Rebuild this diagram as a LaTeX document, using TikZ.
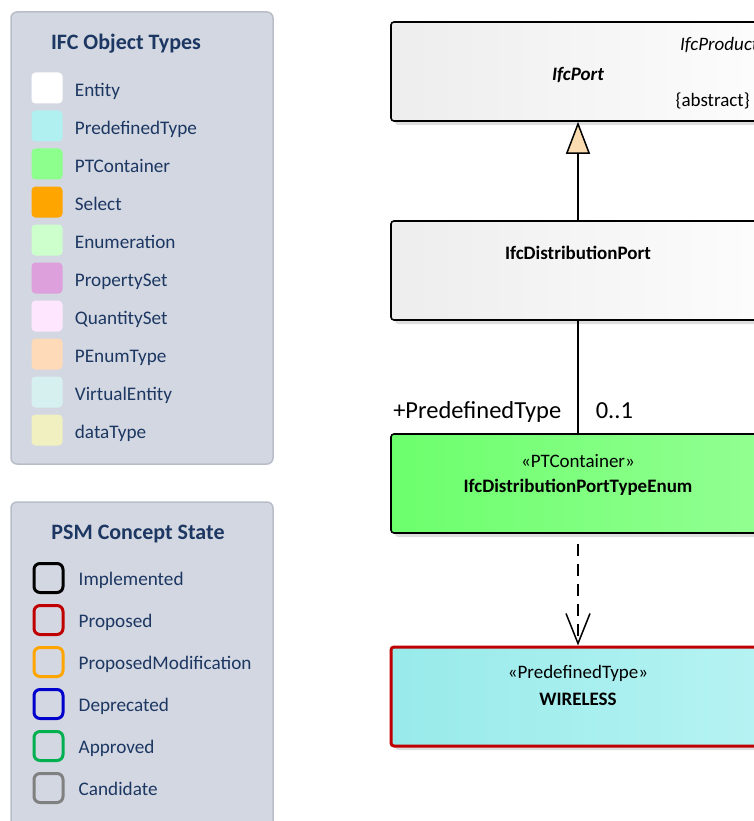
\documentclass[tikz,border=0pt]{standalone}
\usepackage{fontspec}
\setmainfont{Carlito}
\usepackage{xcolor}
\usetikzlibrary{shapes.geometric, arrows.meta, positioning, calc, shadows}
\definecolor{legendfill}{RGB}{211,215,226}
\definecolor{legendline}{RGB}{184,189,200}
\definecolor{legendtext}{RGB}{28,55,97}
\definecolor{ptypecol}{RGB}{176,240,240}
\definecolor{ptcontcol}{RGB}{140,255,140}
\definecolor{selectcol}{RGB}{255,165,0}
\definecolor{enumcol}{RGB}{204,255,204}
\definecolor{psetcol}{RGB}{221,160,221}
\definecolor{qsetcol}{RGB}{255,230,255}
\definecolor{penumcol}{RGB}{255,218,185}
\definecolor{ventcol}{RGB}{214,240,240}
\definecolor{dtypecol}{RGB}{240,240,192}
\definecolor{proposedcol}{RGB}{192,0,0}
\definecolor{modcol}{RGB}{255,165,0}
\definecolor{deprcol}{RGB}{0,0,204}
\definecolor{apprcol}{RGB}{0,176,80}
\definecolor{candcol}{RGB}{128,128,128}
\definecolor{genfill}{RGB}{251,220,176}
\tikzstyle{arrow} = [line width=1.5pt]

\begin{document}
\begin{tikzpicture}[
    x=1pt, y=-1pt,
    legend/.style={rectangle, rounded corners=6pt, draw=legendline, fill=legendfill, line width=1.5pt, minimum width=262pt},
    legtitle/.style={text=legendtext, font=\fontsize{22}{25}\selectfont\bfseries},
    swatch/.style={rectangle, rounded corners=4pt, minimum size=31pt, inner sep=0pt},
    statebox/.style={rectangle, rounded corners=6pt, line width=3pt, minimum size=29pt, inner sep=0pt},
    legtext/.style={text=legendtext, inner sep=0pt, font=\fontsize{19.2}{22}\selectfont},
    umlbox/.style={rectangle, rounded corners=3pt, draw=black, line width=1.6pt, minimum width=374pt, minimum height=99pt, general shadow={fill=black!13, shadow xshift=4pt, shadow yshift=-4pt}},
    boxtext/.style={font=\fontsize{19}{22}\selectfont, inner sep=0pt}
]
    \clip (0,0) rectangle (754,821);
    \fill[white] (0,0) rectangle (754,821);

    \node[legend, minimum height=452pt] (objlegend) at (142,238) {};
    \node[legtitle] (objtitle) at (126,44) {IFC Object Types};
    \foreach \name/\col [count=\i] in {Entity/white, PredefinedType/ptypecol, PTContainer/ptcontcol, Select/selectcol, Enumeration/enumcol, PropertySet/psetcol, QuantitySet/qsetcol, PEnumType/penumcol, VirtualEntity/ventcol, dataType/dtypecol}{
        \node[swatch, fill=\col] (sw\i) at (47,50+38*\i) {};
        \node[legtext, right=12pt of sw\i, anchor=base west, yshift=-8.5pt] (obj\i) {\name};
    }

    \node[legend, minimum height=338pt] (statelegend) at (142,671) {};
    \node[legtitle] (statetitle) at (138,534) {PSM Concept State};
    \foreach \name/\col [count=\i] in {Implemented/black, Proposed/proposedcol, ProposedModification/modcol, Deprecated/deprcol, Approved/apprcol, Candidate/candcol}{
        \node[statebox, draw=\col] (st\i) at (48.5,536+42*\i) {};
        \node[legtext, right=14pt of st\i, anchor=base west, yshift=-7pt] (state\i) {\name};
    }

    \node[umlbox, left color=black!7, right color=black!1] (port) at (578,71.5) {};
    \node[boxtext, font=\fontsize{19}{22}\selectfont\bfseries\itshape] (portname) at ($(port.north)+(0,54)$) {IfcPort};
    \node[boxtext, font=\fontsize{19}{22}\selectfont\itshape, anchor=west] (portparent) at (680,45) {IfcProduct};
    \node[boxtext, anchor=east] (portabs) at (750,101) {\{abstract\}};

    \node[umlbox, left color=black!7, right color=black!1] (dport) at (578,270.5) {};
    \node[boxtext, font=\fontsize{19}{22}\selectfont\bfseries] (dportname) at ($(dport.north)+(0,33)$) {IfcDistributionPort};

    \node[umlbox, left color={rgb,255:red,108;green,255;blue,108}, right color={rgb,255:red,146;green,255;blue,146}] (ptenum) at (578,483.5) {};
    \node[boxtext] (ptenumst) at ($(ptenum.north)+(0,28)$) {«PTContainer»};
    \node[boxtext, font=\fontsize{19}{22}\selectfont\bfseries] (ptenumname) at ($(ptenum.north)+(0,54)$) {IfcDistributionPortTypeEnum};

    \node[umlbox, draw=proposedcol, line width=3pt, left color={rgb,255:red,152;green,234;blue,234}, right color={rgb,255:red,182;green,243;blue,243}] (wireless) at (578,696.5) {};
    \node[boxtext] (wirelessst) at ($(wireless.north)+(0,28)$) {«PredefinedType»};
    \node[boxtext, font=\fontsize{19}{22}\selectfont\bfseries] (wirelessname) at ($(wireless.north)+(0,54)$) {WIRELESS};

    \draw[arrow, -{Triangle[length=32pt, width=24pt, fill=genfill, line width=1.5pt]}] (dport) -- (port);
    \draw[arrow] (dport) -- (ptenum)
        node[pos=1, anchor=base east, inner sep=0pt, xshift=-16pt, yshift=15pt, font=\fontsize{24.5}{28}\selectfont] (rolelbl) {+PredefinedType}
        node[pos=1, anchor=base west, inner sep=0pt, xshift=17pt, yshift=15pt, font=\fontsize{24.5}{28}\selectfont] (multlbl) {0..1};
    \draw[arrow, dash pattern=on 12pt off 8pt, shorten <=10pt, -{Straight Barb[length=30pt, width=24pt, line width=1.5pt]}] (ptenum) -- (wireless);
\end{tikzpicture}
\end{document}
